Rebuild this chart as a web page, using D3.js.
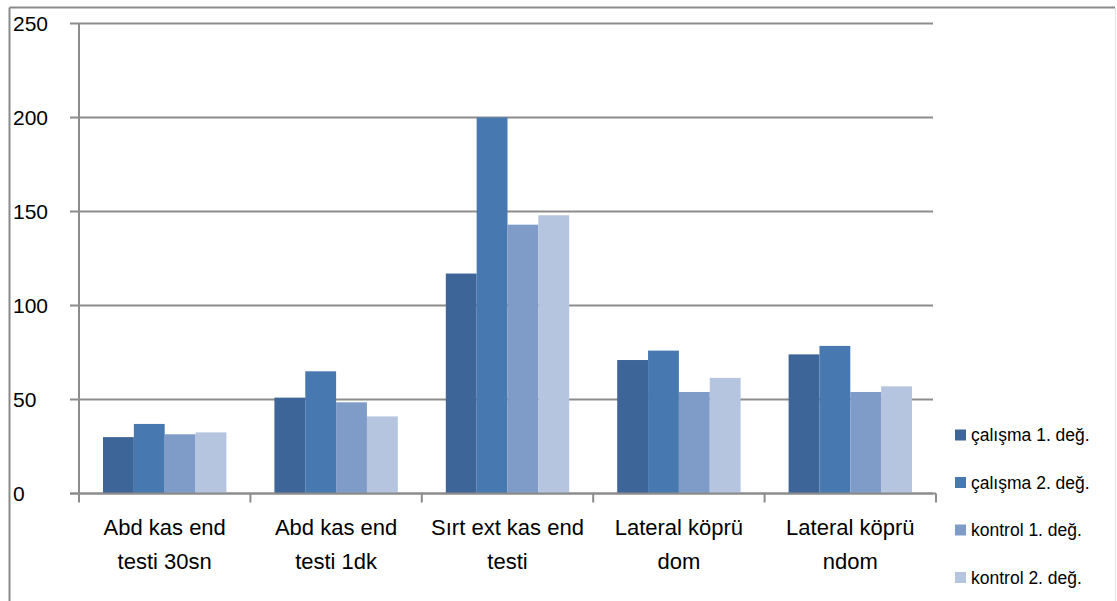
<!DOCTYPE html>
<html>
<head>
<meta charset="utf-8">
<script src="https://cdn.jsdelivr.net/npm/d3@7"></script>
<style>
  body { margin: 0; background: #fff; }
  svg { display: block; font-family: "Liberation Sans", Arial, sans-serif; }
</style>
</head>
<body>
<div id="chart"></div>
<script>
const categories = [
  ['Abd kas end', 'testi 30sn'],
  ['Abd kas end', 'testi 1dk'],
  ['Sırt ext kas end', 'testi'],
  ['Lateral köprü', 'dom'],
  ['Lateral köprü', 'ndom']
];
const seriesNames = ['çalışma 1. değ.', 'çalışma 2. değ.', 'kontrol 1. değ.', 'kontrol 2. değ.'];
const calisma1 = [30, 51, 117, 71, 74];
const calisma2 = [37, 65, 200, 76, 78.5];
const kontrol1 = [31.5, 48.5, 143, 54, 54];
const kontrol2 = [32.5, 41, 148, 61.5, 57];
const yTicks = [0, 50, 100, 150, 200, 250];
const colors = ['#3d6598', '#4878b0', '#7f9bc7', '#b5c4df'];

const allSeries = [calisma1, calisma2, kontrol1, kontrol2];
const w = 1117;
const h = 601;
const plotLeft = 79, plotRight = 936, plotTop = 23.5, plotBottom = 493.5;

const svg = d3.select('#chart')
              .append('svg')
              .attr('width', w)
              .attr('height', h);

// outer chart border
svg.append('line').attr('x1', 9.5).attr('y1', 7.5).attr('x2', 9.5).attr('y2', h)
   .attr('stroke', '#8a8a8a').attr('stroke-width', 2);
svg.append('line').attr('x1', 9.5).attr('y1', 7.5).attr('x2', 1115).attr('y2', 7.5)
   .attr('stroke', '#8a8a8a').attr('stroke-width', 2);
svg.append('line').attr('x1', 1115.5).attr('y1', 7.5).attr('x2', 1115.5).attr('y2', h)
   .attr('stroke', '#e4e4e4').attr('stroke-width', 1);

const yScale = d3.scaleLinear()
                 .domain([0, 250])
                 .range([plotBottom, plotTop]);
const x0 = d3.scaleBand()
             .domain(d3.range(categories.length))
             .range([plotLeft, plotRight]);
const gap = 24;
const x1 = d3.scaleBand()
             .domain(d3.range(allSeries.length))
             .range([gap, x0.bandwidth() - gap]);

// gridlines
svg.append('g')
   .selectAll('line')
   .data(yTicks)
   .enter()
   .append('line')
   .attr('x1', plotLeft - 9)
   .attr('x2', plotRight - 3)
   .attr('y1', d => yScale(d))
   .attr('y2', d => yScale(d))
   .attr('stroke', '#8c8c8c')
   .attr('stroke-width', 2);

// y labels
svg.append('g')
   .selectAll('text')
   .data(yTicks)
   .enter()
   .append('text')
   .attr('x', 13)
   .attr('y', d => yScale(d))
   .attr('dy', '0.36em')
   .attr('font-size', 21)
   .attr('fill', '#000')
   .text(d => d);

// bars
allSeries.forEach((vals, s) => {
  svg.append('g')
     .selectAll('rect')
     .data(vals)
     .enter()
     .append('rect')
     .attr('x', (d, i) => x0(i) + x1(s))
     .attr('width', x1.bandwidth())
     .attr('y', d => yScale(d))
     .attr('height', d => plotBottom - yScale(d))
     .attr('fill', colors[s]);
});

// y axis line
svg.append('line')
   .attr('x1', plotLeft).attr('x2', plotLeft)
   .attr('y1', plotTop).attr('y2', plotBottom)
   .attr('stroke', '#8c8c8c').attr('stroke-width', 2);

// x axis line + ticks
svg.append('line')
   .attr('x1', plotLeft - 9).attr('x2', plotRight)
   .attr('y1', plotBottom).attr('y2', plotBottom)
   .attr('stroke', '#8c8c8c').attr('stroke-width', 2);
svg.append('g')
   .selectAll('line')
   .data(d3.range(categories.length + 1))
   .enter()
   .append('line')
   .attr('x1', i => plotLeft + i * x0.bandwidth())
   .attr('x2', i => plotLeft + i * x0.bandwidth())
   .attr('y1', plotBottom)
   .attr('y2', plotBottom + 9)
   .attr('stroke', '#8c8c8c')
   .attr('stroke-width', 2);

// category labels
const catLabels = svg.append('g')
   .selectAll('text')
   .data(categories)
   .enter()
   .append('text')
   .attr('text-anchor', 'middle')
   .attr('font-size', 22)
   .attr('fill', '#000');
catLabels.append('tspan')
   .attr('x', (d, i) => x0(i) + x0.bandwidth() / 2)
   .attr('y', 535)
   .text(d => d[0]);
catLabels.append('tspan')
   .attr('x', (d, i) => x0(i) + x0.bandwidth() / 2)
   .attr('y', 569)
   .text(d => d[1]);

// legend
const legend = svg.append('g')
   .selectAll('g')
   .data(seriesNames)
   .enter()
   .append('g')
   .attr('transform', (d, i) => 'translate(955,' + (435 + i * 47.5) + ')');
legend.append('rect')
   .attr('x', 0).attr('y', -5.5)
   .attr('width', 11).attr('height', 11)
   .attr('fill', (d, i) => colors[i]);
legend.append('text')
   .attr('x', 16)
   .attr('dy', '0.36em')
   .attr('font-size', 17.5)
   .attr('fill', '#000')
   .text(d => d);
</script>
</body>
</html>
